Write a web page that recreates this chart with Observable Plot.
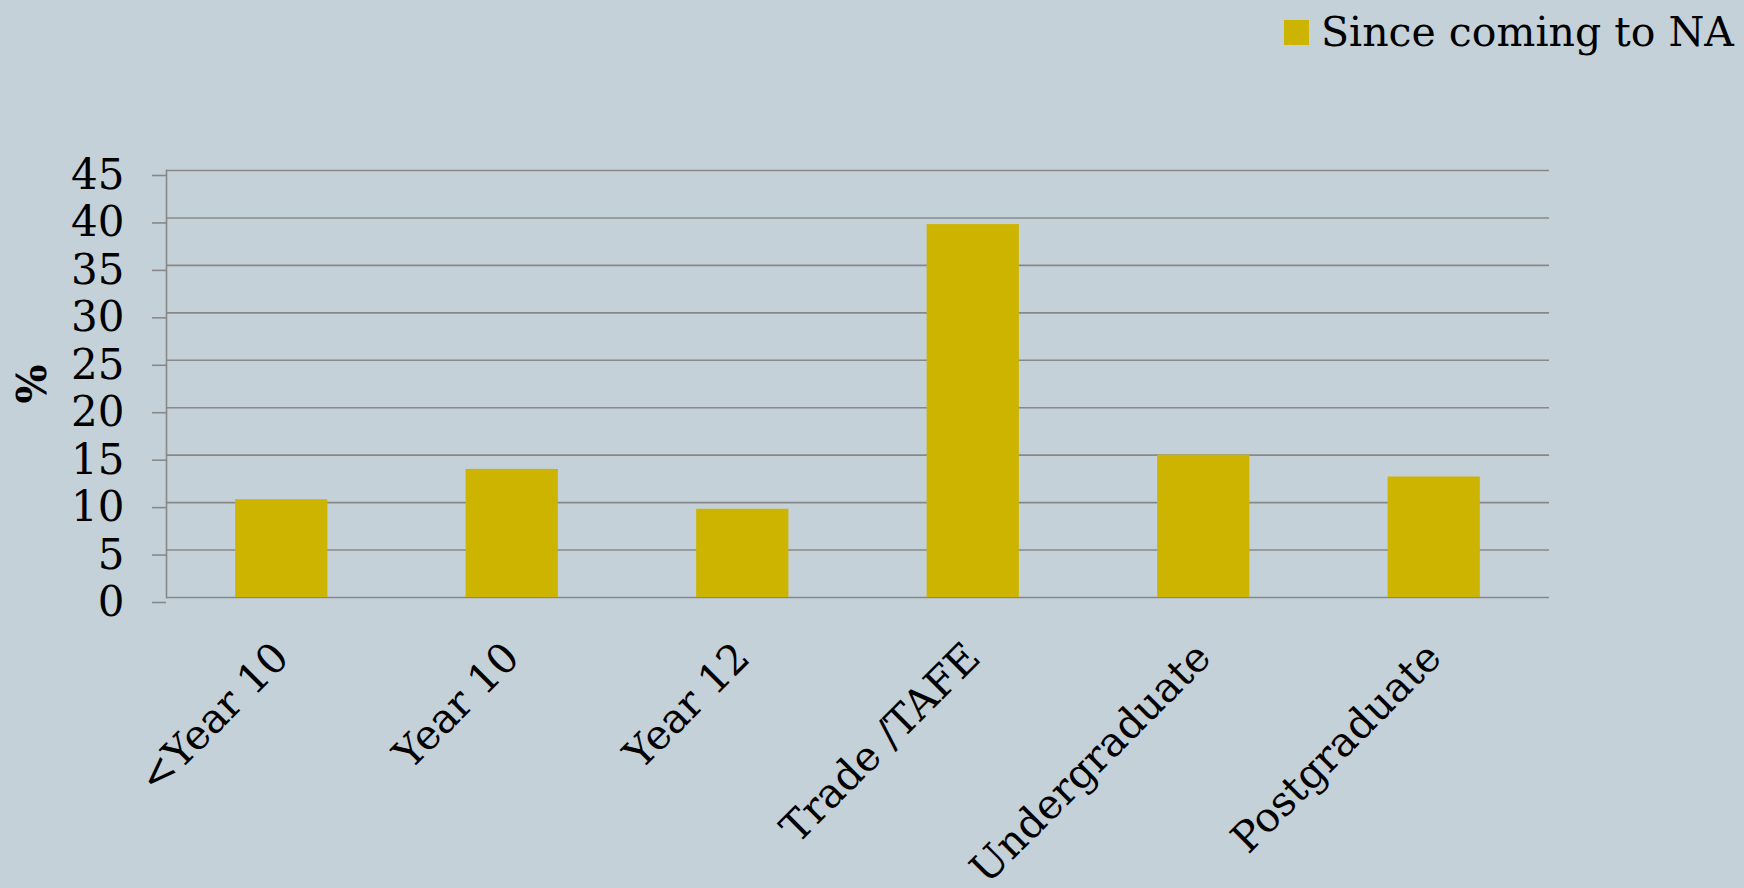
<!DOCTYPE html>
<html>
<head>
<meta charset="utf-8">
<script src="https://cdn.jsdelivr.net/npm/d3@7"></script>
<script src="https://cdn.jsdelivr.net/npm/@observablehq/plot@0.6"></script>
<style>
  html, body { margin: 0; padding: 0; background: #c5d1d8; overflow: hidden; }
  #wrap { position: relative; width: 1744px; height: 888px; }
  #legend { position: absolute; left: 1284px; top: 8px; display: flex; align-items: center;
    font-family: "DejaVu Serif", serif; font-size: 41px; color: #000; white-space: nowrap; }
  #legend .sw { width: 25px; height: 25px; background: #cdb400; margin-right: 12px; }
</style>
</head>
<body>
<div id="wrap">
  <div id="chart"></div>
  <div id="legend"><span class="sw"></span><span id="legendText"></span></div>
</div>
<script>
const categories = ["<Year 10", "Year 10", "Year 12", "Trade /TAFE", "Undergraduate", "Postgraduate"];
const values = [10.3, 13.5, 9.3, 39.3, 15.0, 12.7];
const seriesName = "Since coming to NA";
const yTicks = [0, 5, 10, 15, 20, 25, 30, 35, 40, 45];
const yLabel = "%";

const data = categories.map((c, i) => ({category: c, value: values[i]}));
const font = "DejaVu Serif";
const barColor = "#cdb400";
const gridColor = "#888888";

document.getElementById("legendText").textContent = seriesName;

const chart = Plot.plot({
  width: 1744,
  height: 888,
  marginLeft: 166,
  marginRight: 195,
  marginTop: 170,
  marginBottom: 291,
  style: {background: "transparent", fontFamily: font, color: "#000"},
  x: {domain: categories, paddingInner: 0.6, paddingOuter: 0.3, round: false, axis: null},
  y: {domain: [0, 45], axis: null},
  marks: [
    Plot.gridY(yTicks, {stroke: gridColor, strokeOpacity: 1, strokeWidth: 1.6}),
    Plot.axisY(yTicks, {tickSize: 14, tickPadding: 28, stroke: gridColor, strokeWidth: 1.6, fill: "#000",
      fontSize: 42, fontFamily: font, dy: 5, label: null, tickFormat: d => String(d)}),
    Plot.frame({anchor: "left", stroke: gridColor, strokeWidth: 1.6}),
    Plot.barY(data, {x: "category", y: "value", fill: barColor}),
    Plot.text(categories, {x: d => d, frameAnchor: "bottom", rotate: -45, textAnchor: "end",
      lineAnchor: "middle", dy: 53, dx: 0, fontSize: 41, fontFamily: font, fill: "#000"}),
    Plot.text([yLabel], {frameAnchor: "left", dx: -134, rotate: -90, textAnchor: "middle",
      lineAnchor: "middle", fontSize: 41, fontWeight: "bold", fontFamily: font, fill: "#000"})
  ]
});
document.getElementById("chart").appendChild(chart);
</script>
</body>
</html>
